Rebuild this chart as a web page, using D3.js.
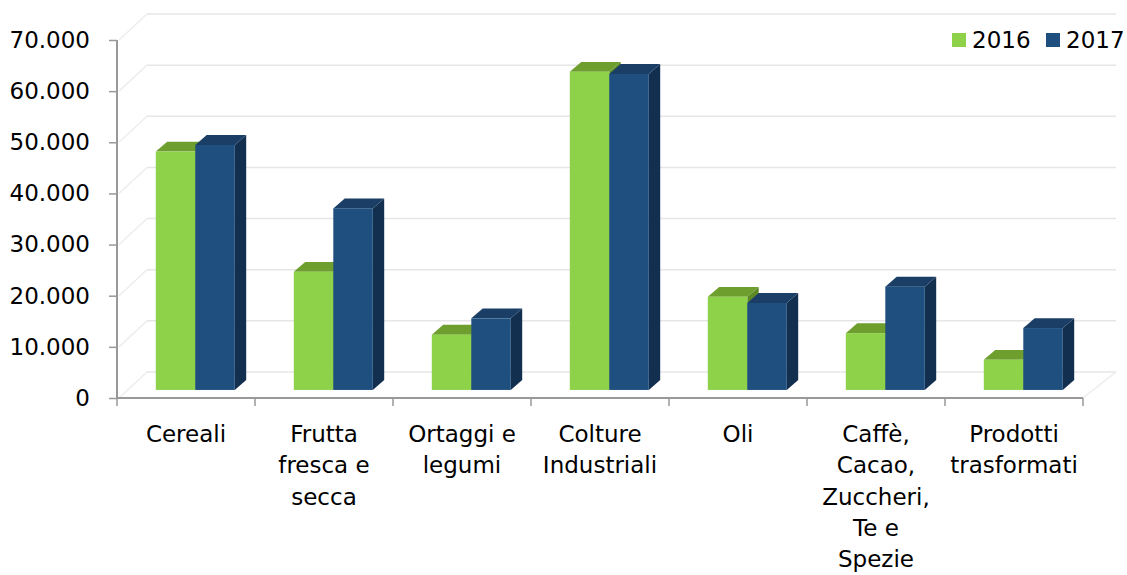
<!DOCTYPE html>
<html><head><meta charset="utf-8">
<script src="https://cdn.jsdelivr.net/npm/d3@7"></script>
<style>html,body{margin:0;padding:0;background:#fff;}svg{display:block;font-family:"DejaVu Sans",Verdana,sans-serif;}</style>
</head><body>
<svg id="chart" width="1127" height="575"></svg>
<script>
const categories = ["Cereali","Frutta fresca e secca","Ortaggi e legumi","Colture Industriali","Oli","Caffè, Cacao, Zuccheri, Te e Spezie","Prodotti trasformati"];
const categoryLines = [["Cereali"],["Frutta","fresca e","secca"],["Ortaggi e","legumi"],["Colture","Industriali"],["Oli"],["Caffè,","Cacao,","Zuccheri,","Te e","Spezie"],["Prodotti","trasformati"]];
const series = ["2016","2017"];
const values2016 = [46600, 23100, 10800, 62200, 18200, 11100, 5900];
const values2017 = [47900, 35500, 14000, 61800, 17000, 20200, 12100];
const yTicks = [0,10000,20000,30000,40000,50000,60000,70000];
const yTickLabels = ["0","10.000","20.000","30.000","40.000","50.000","60.000","70.000"];

const svg = d3.select("#chart");
const x0 = 117, x1 = 1083, yBottom = 398, yTop = 40;
const DX = 30, DY = -26; // full depth projection
const FS = 23;
const x = d3.scaleBand().domain(categories).range([x0, x1]).paddingInner(0).paddingOuter(0);
const y = d3.scaleLinear().domain([0,70000]).range([yBottom, yTop]);
const colors = {"2016":{front:"#8ed24a",top:"#6e9f2e",side:"#5d8a25"},"2017":{front:"#1f4f7e",top:"#1a3e66",side:"#132f4f"}};

// back wall gridlines + left wall diagonals
const g = svg.append("g");
yTicks.forEach(t => {
  g.append("line").attr("x1", x0 + DX).attr("x2", 1116).attr("y1", y(t) + DY).attr("y2", y(t) + DY)
    .attr("stroke", "#e6e6e6").attr("stroke-width", 1.5);
  g.append("line").attr("x1", x0 + 2).attr("x2", x0 + DX).attr("y1", y(t)).attr("y2", y(t) + DY)
    .attr("stroke", "#ededed").attr("stroke-width", 1.5);
});
g.append("line").attr("x1", x1).attr("x2", 1116).attr("y1", yBottom).attr("y2", yBottom + DY)
  .attr("stroke", "#ededed").attr("stroke-width", 1.5);

// bars
const dFront = 0.31, dBack = 0.69;
const barW = 39.5;
const data = [];
categories.forEach((c, i) => {
  data.push({cat:c, s:"2016", v:values2016[i], k:0});
  data.push({cat:c, s:"2017", v:values2017[i], k:1});
});
const bars = svg.append("g");
data.forEach(d => {
  const cx = x(d.cat) + x.bandwidth()/2;
  const fx = cx - barW + d.k*barW + DX*dFront;
  const fy0 = y(0) + DY*dFront;
  const fy1 = y(d.v) + DY*dFront;
  const ddx = DX*(dBack-dFront), ddy = DY*(dBack-dFront);
  const col = colors[d.s];
  bars.append("path").attr("d", `M${fx+barW},${fy1}L${fx+barW+ddx},${fy1+ddy}L${fx+barW+ddx},${fy0+ddy}L${fx+barW},${fy0}Z`).attr("fill", col.side);
  bars.append("path").attr("d", `M${fx},${fy1}L${fx+ddx},${fy1+ddy}L${fx+barW+ddx},${fy1+ddy}L${fx+barW},${fy1}Z`).attr("fill", col.top);
  bars.append("rect").attr("x", fx).attr("y", fy1).attr("width", barW).attr("height", fy0-fy1).attr("fill", col.front);
});

// axes
const yAxis = d3.axisLeft(y).tickValues(yTicks).tickFormat((d,i)=>yTickLabels[i]).tickSize(8).tickPadding(19);
const ya = svg.append("g").attr("transform", `translate(${x0},0)`).call(yAxis);
ya.select(".domain").attr("stroke", "#999").attr("stroke-width", 2).attr("d", `M0,${yTop}V${yBottom}`);
ya.selectAll(".tick line").attr("stroke", "#999").attr("stroke-width", 1.5);
ya.selectAll(".tick text").attr("font-size", FS).attr("fill", "#000").attr("font-family", "DejaVu Sans");

const xAxisLine = svg.append("g");
xAxisLine.append("line").attr("x1", x0-1).attr("x2", x1).attr("y1", yBottom).attr("y2", yBottom).attr("stroke", "#999").attr("stroke-width", 2);
const bounds = categories.map(c => x(c)).concat([x1]);
bounds.forEach(b => xAxisLine.append("line").attr("x1", b).attr("x2", b).attr("y1", yBottom).attr("y2", yBottom+8).attr("stroke", "#999").attr("stroke-width", 1.5));

const labels = svg.append("g").attr("font-size", FS).attr("fill", "#000");
const LH = 31.3, base = 442;
categories.forEach((c, i) => {
  const t = labels.append("text").attr("x", x(c) + x.bandwidth()/2).attr("y", base).attr("text-anchor", "middle");
  categoryLines[i].forEach((ln, j) => t.append("tspan").attr("x", x(c) + x.bandwidth()/2).attr("y", base + j*LH).text(ln));
});

// legend
const leg = svg.append("g").attr("font-size", FS);
const legX = [952, 1046];
series.forEach((s, i) => {
  leg.append("rect").attr("x", legX[i]).attr("y", 33).attr("width", 14).attr("height", 14).attr("fill", colors[s].front);
  leg.append("text").attr("x", legX[i] + 20).attr("y", 48).text(s);
});
</script>
</body></html>
